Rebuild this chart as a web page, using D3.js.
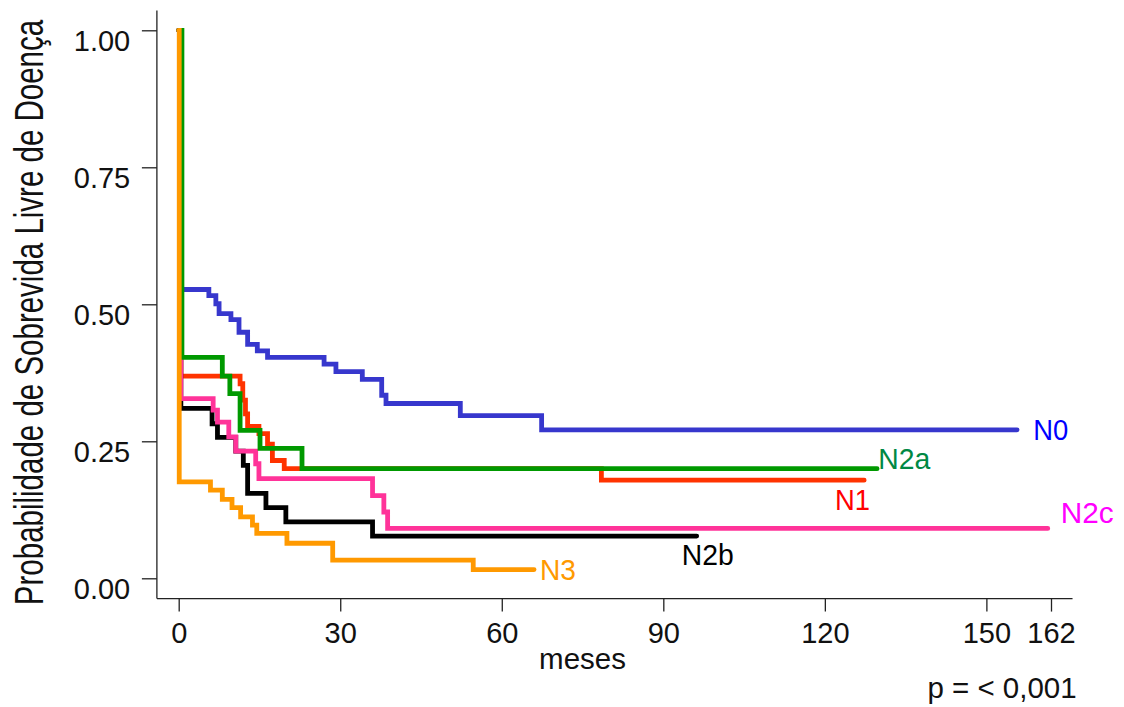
<!DOCTYPE html>
<html>
<head>
<meta charset="utf-8">
<script src="https://cdn.jsdelivr.net/npm/d3@7"></script>
<style>
  html, body { margin: 0; padding: 0; background: #fff; }
  svg { display: block; }
  text { font-family: "Liberation Sans", Arial, sans-serif; }
</style>
</head>
<body>
<div id="chart"></div>
<script>
// ---- Data ----
const seriesNames = ["N0", "N1", "N2b", "N2c", "N2a", "N3"];

const n0Time = [0, 0.5, 5.6, 6.9, 7.5, 9.7, 11.2, 12.8, 14.6, 16.5, 27.0, 29.2, 34.1, 37.7, 38.5, 52.3, 67.4, 155.7];
const n0Surv = [1, 0.527, 0.516, 0.501, 0.483, 0.472, 0.449, 0.427, 0.415, 0.403, 0.391, 0.377, 0.363, 0.334, 0.319, 0.297, 0.271, 0.271];

const n1Time = [0, 0.4, 11.4, 11.9, 12.4, 12.8, 14.9, 16.5, 17.4, 19.6, 78.5, 127.3];
const n1Surv = [1, 0.369, 0.355, 0.325, 0.300, 0.277, 0.264, 0.245, 0.215, 0.200, 0.179, 0.179];

const n2aTime = [0, 0.6, 8.1, 9.5, 11.4, 15.1, 22.9, 129.7];
const n2aSurv = [1, 0.403, 0.369, 0.337, 0.270, 0.237, 0.200, 0.200];

const n2bTime = [0, 0.4, 6.2, 7.2, 10.6, 12.0, 12.8, 16.2, 19.9, 36.0, 96.2];
const n2bSurv = [1, 0.310, 0.282, 0.257, 0.232, 0.206, 0.155, 0.129, 0.103, 0.077, 0.077];

const n2cTime = [0, 0.4, 6.4, 7.2, 9.3, 10.6, 14.3, 14.9, 36.0, 38.1, 38.8, 161.4];
const n2cSurv = [1, 0.328, 0.307, 0.285, 0.258, 0.232, 0.209, 0.182, 0.151, 0.121, 0.091, 0.091];

const n3Time = [0, 0.1, 5.9, 8.1, 9.9, 11.5, 13.7, 14.5, 20.1, 28.6, 54.7, 66.0];
const n3Surv = [1, 0.176, 0.161, 0.144, 0.129, 0.112, 0.097, 0.082, 0.064, 0.033, 0.016, 0.016];

const xTicks = [0, 30, 60, 90, 120, 150, 162];
const yTicks = [0, 0.25, 0.5, 0.75, 1];

const xTitle = "meses";
const yTitle = "Probabilidade de Sobrevida Livre de Doença";
const pText = "p = < 0,001";

// ---- Styling / layout ----
const W = 1124, H = 707;
const lineColors = { N0: "#3737cd", N1: "#ff3300", N2a: "#009900", N2b: "#000000", N2c: "#ff3399", N3: "#ff9900" };
const labelStyle = {
  N0:  { color: "#0000ff", x: 1033.3, y: 440.0, w: 35, fs: 29 },
  N2a: { color: "#008844", x: 878.3,  y: 469.3, w: 52, fs: 30 },
  N1:  { color: "#ff0000", x: 835.0,  y: 510.0, w: 35, fs: 29 },
  N2c: { color: "#ff00ff", x: 1060.7, y: 523.3, w: 53, fs: 29 },
  N2b: { color: "#000000", x: 681.7,  y: 565.0, w: 52, fs: 30 },
  N3:  { color: "#ff9900", x: 540.0,  y: 580.0, w: 36, fs: 29 }
};

const series = [
  { name: "N0",  t: n0Time,  s: n0Surv },
  { name: "N1",  t: n1Time,  s: n1Surv },
  { name: "N2b", t: n2bTime, s: n2bSurv },
  { name: "N2c", t: n2cTime, s: n2cSurv },
  { name: "N2a", t: n2aTime, s: n2aSurv },
  { name: "N3",  t: n3Time,  s: n3Surv }
];

const x = d3.scaleLinear().domain([0, 162]).range([178.7, 1051]);
const y = d3.scaleLinear().domain([0, 1]).range([578.3, 30.3]);

const svg = d3.select("#chart").append("svg").attr("width", W).attr("height", H);

// curves
const line = d3.line().x(d => x(d[0])).y(d => y(d[1])).curve(d3.curveStepAfter);
series.forEach(sr => {
  const pts = sr.t.map((t, i) => [t, sr.s[i]]);
  svg.append("path")
    .attr("d", line(pts))
    .attr("fill", "none")
    .attr("stroke", lineColors[sr.name])
    .attr("stroke-width", 4.8)
    .attr("stroke-linejoin", "miter")
    .attr("stroke-linecap", "round");
});

// axes
const axisColor = "#222";
const xAxisY = y(-0.037);
const yAxisX = x(-4.05);

svg.append("line")
  .attr("x1", yAxisX).attr("x2", yAxisX)
  .attr("y1", y(1.036)).attr("y2", xAxisY)
  .attr("stroke", axisColor).attr("stroke-width", 1.3);
svg.append("line")
  .attr("x1", yAxisX).attr("x2", x(166))
  .attr("y1", xAxisY).attr("y2", xAxisY)
  .attr("stroke", axisColor).attr("stroke-width", 1.3);

const yAxis = svg.append("g")
  .attr("transform", `translate(${yAxisX},0)`)
  .call(d3.axisLeft(y).tickValues(yTicks).tickSize(15).tickSizeOuter(0).tickPadding(11.7).tickFormat(d3.format(".2f")));
yAxis.select(".domain").remove();
yAxis.selectAll(".tick line").attr("stroke", axisColor).attr("stroke-width", 1.3);
yAxis.selectAll(".tick text")
  .attr("dy", null).attr("y", 20.5)
  .attr("font-size", 29).attr("font-family", "Liberation Sans, Arial, sans-serif").attr("fill", "#111");

const xAxis = svg.append("g")
  .attr("transform", `translate(0,${xAxisY})`)
  .call(d3.axisBottom(x).tickValues(xTicks).tickSize(13).tickSizeOuter(0).tickFormat(d3.format("d")));
xAxis.select(".domain").remove();
xAxis.selectAll(".tick line").attr("stroke", axisColor).attr("stroke-width", 1.3);
xAxis.selectAll(".tick text")
  .attr("dy", null).attr("y", 44.8)
  .attr("font-size", 29).attr("font-family", "Liberation Sans, Arial, sans-serif").attr("fill", "#111");

// titles
svg.append("text")
  .attr("x", x(75)).attr("y", 669)
  .attr("text-anchor", "middle")
  .attr("font-size", 29.5).attr("fill", "#111")
  .text(xTitle);

svg.append("text")
  .attr("transform", "translate(43,312.5) rotate(-90) scale(1,1.36)")
  .attr("text-anchor", "middle")
  .attr("font-size", 29.5)
  .attr("fill", "#111")
  .text(yTitle);

svg.append("text")
  .attr("x", 1076.7).attr("y", 698.3)
  .attr("text-anchor", "end")
  .attr("font-size", 29.5).attr("fill", "#111")
  .text(pText);

// series labels
seriesNames.forEach(n => {
  const st = labelStyle[n];
  svg.append("text")
    .attr("x", st.x).attr("y", st.y)
    .attr("font-size", st.fs)
    .attr("textLength", st.w)
    .attr("lengthAdjust", "spacingAndGlyphs")
    .attr("fill", st.color)
    .text(n);
});
</script>
</body>
</html>
